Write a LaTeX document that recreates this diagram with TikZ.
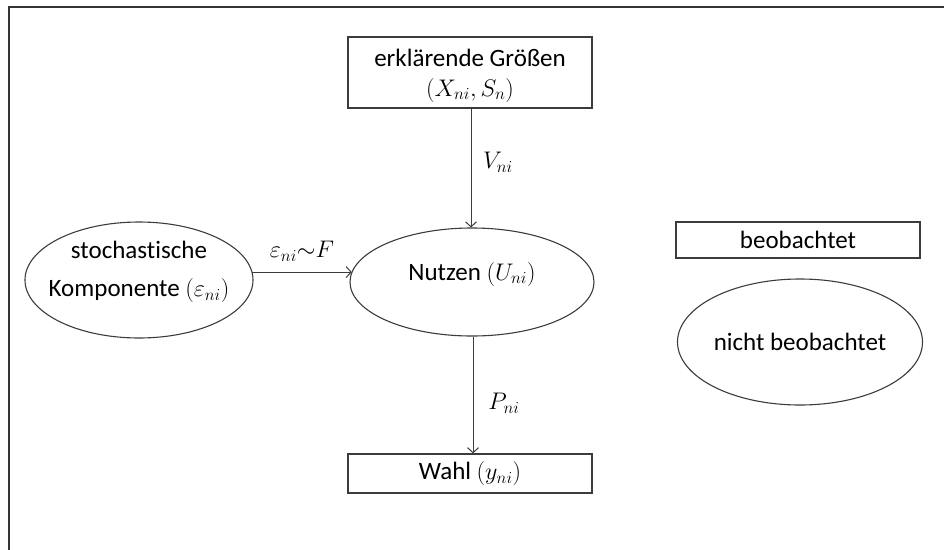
\RequirePackage{fix-cm}
\documentclass[tikz,border=0pt]{standalone}
\usepackage{fontspec}
\setmainfont{Carlito}[Ligatures=NoCommon]
\usetikzlibrary{shapes.geometric,arrows.meta}
\definecolor{edge}{HTML}{3C3C3C}
\newcommand{\mm}[1]{{\fontsize{24}{28}\selectfont$#1$}}
\tikzset{
  box/.style={draw=edge,line width=1.3pt,rectangle,inner sep=0pt,align=center},
  oval/.style={draw=edge,line width=1.1pt,ellipse,inner sep=0pt,align=center},
  txt/.style={inner sep=0pt,align=center},
  conn/.style={draw=edge,line width=1pt,-{Straight Barb[length=5pt,width=11pt,line width=1pt]}},
  lbl/.style={inner sep=0pt}
}
\begin{document}
\begin{tikzpicture}[x=1pt,y=-1pt,font=\fontsize{25}{29}\selectfont]
\useasboundingbox (0,0) rectangle (944,549);
\draw[line width=2.2pt,black!80] (9,560) -- (9,7) -- (955,7);
\node[box,minimum width=244pt,minimum height=71pt] (expl) at (470,72.5) {};
\node[txt] (expltext) at ([yshift=-3pt]expl.center) {erklärende Größen\\[1pt]\mm{(X_{ni},S_n)}};
\node[oval,minimum width=244pt,minimum height=108pt] (nutzen) at (472,282) {};
\node[txt] (nutzentext) at ([yshift=8pt]nutzen.center) {Nutzen \mm{(U_{ni})}};
\node[oval,minimum width=228pt,minimum height=116pt] (stoch) at (139,280) {};
\node[txt] (stochtext) at ([yshift=8pt]stoch.center) {stochastische\\[9pt]Komponente \mm{(\varepsilon_{ni})}};
\node[box,minimum width=244pt,minimum height=39pt] (wahl) at (470,473.5) {Wahl \mm{(y_{ni})}};
\node[box,minimum width=244pt,minimum height=36pt] (beob) at (798,240) {beobachtet};
\node[oval,minimum width=245pt,minimum height=126pt] (nbeob) at (800,342) {nicht beobachtet};
\draw[conn] (expl.south -| 471,0) -- (nutzen.north -| 471,0);
\draw[conn] (nutzen.south -| 473,0) -- (wahl.north -| 473,0);
\draw[conn] (stoch.4) -- (nutzen.175 |- stoch.4);
\node[lbl] (vlab) at (498,162) {\mm{V_{ni}}};
\node[lbl] (plab) at (504,403) {\mm{P_{ni}}};
\node[lbl] (elab) at (302,251) {\mm{\varepsilon_{ni}{\sim}F}};
\end{tikzpicture}
\end{document}
